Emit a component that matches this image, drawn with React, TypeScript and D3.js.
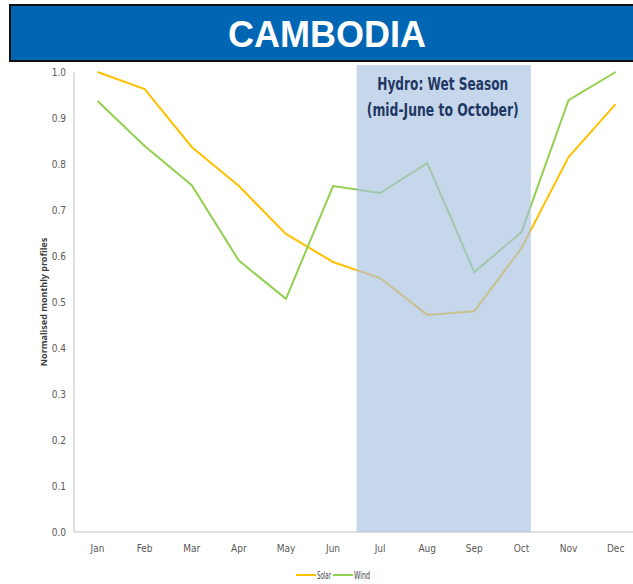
import React from "react";
import * as d3 from "d3";

const months = ["Jan","Feb","Mar","Apr","May","Jun","Jul","Aug","Sep","Oct","Nov","Dec"];
const solar = [1.0,0.963,0.837,0.752,0.648,0.587,0.552,0.472,0.48,0.617,0.815,0.93];
const wind = [0.937,0.839,0.754,0.59,0.507,0.752,0.737,0.802,0.565,0.652,0.939,1.0];
const yTicks = [0,0.1,0.2,0.3,0.4,0.5,0.6,0.7,0.8,0.9,1.0];
const wetStart = 5.5;
const wetEnd = 9.2;

export default function App() {
  const W = 633, H = 584;
  const left = 74, top = 72, bottom = 532;
  const step = 47.1;
  const x = d3.scaleLinear().domain([0, 11]).range([left + step / 2, left + step / 2 + 11 * step]);
  const y = d3.scaleLinear().domain([0, 1]).range([bottom, top]);
  const line = d3.line<number>().x((_, i) => x(i)).y((d) => y(d));
  const font = "'DejaVu Sans Condensed', sans-serif";
  const cx = (x(wetStart) + x(wetEnd)) / 2 - 1;
  return (
    <svg width={W} height={H} style={{ position: "absolute", left: 0, top: 0, background: "#fff" }}>
      <rect x={10} y={5} width={640} height={56} fill="#0066B3" stroke="#111" strokeWidth={2} />
      <text x={327} y={47} textAnchor="middle" fill="#fff" fontFamily="'Liberation Sans', Arial, sans-serif" fontWeight="bold" fontSize={36}>CAMBODIA</text>
      <line x1={left} x2={left} y1={top} y2={bottom} stroke="#c0c0c0" strokeWidth={1} />
      <line x1={left} x2={W} y1={bottom} y2={bottom} stroke="#c0c0c0" strokeWidth={1} />
      {yTicks.map((t) => (
        <text key={t} x={66} y={y(t) + 3.5} textAnchor="end" fontSize={10} fontWeight="normal" fill="#595959" fontFamily={font}>{t.toFixed(1)}</text>
      ))}
      {months.map((m, i) => (
        <text key={m} x={x(i)} y={552} textAnchor="middle" fontSize={10} fontWeight="normal" fill="#595959" fontFamily={font}>{m}</text>
      ))}
      <text transform={`translate(47,${(top + bottom) / 2}) rotate(-90)`} textAnchor="middle" fontSize={9} fontWeight="bold" fill="#404040" fontFamily="'Noto Sans', sans-serif">Normalised monthly profiles</text>
      <path d={line(solar) || ""} fill="none" stroke="#FFC000" strokeWidth={2} />
      <path d={line(wind) || ""} fill="none" stroke="#92D050" strokeWidth={2} />
      <rect x={x(wetStart)} y={65} width={x(wetEnd) - x(wetStart)} height={bottom - 65} fill="#A9C1E0" opacity={0.65} />
      <text x={cx} y={90} textAnchor="middle" fontSize={17} fontWeight="bold" fill="#1F3864" fontFamily={font} textLength={131} lengthAdjust="spacingAndGlyphs">Hydro: Wet Season</text>
      <text x={cx} y={116} textAnchor="middle" fontSize={17} fontWeight="bold" fill="#1F3864" fontFamily={font} textLength={152} lengthAdjust="spacingAndGlyphs">(mid-June to October)</text>
      <line x1={296} x2={316} y1={575} y2={575} stroke="#FFC000" strokeWidth={2} />
      <text x={317} y={578.5} fontSize={10} fontWeight="normal" fill="#404040" fontFamily={font} textLength={14} lengthAdjust="spacingAndGlyphs">Solar</text>
      <line x1={333} x2={353} y1={575} y2={575} stroke="#92D050" strokeWidth={2} />
      <text x={354} y={578.5} fontSize={10} fontWeight="normal" fill="#404040" fontFamily={font} textLength={16} lengthAdjust="spacingAndGlyphs">Wind</text>
    </svg>
  );
}
